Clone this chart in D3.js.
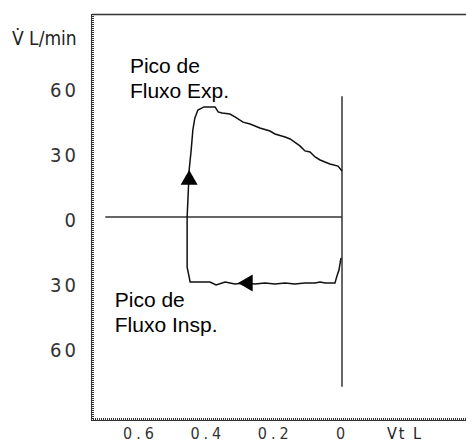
<!DOCTYPE html>
<html><head><meta charset="utf-8">
<script src="https://cdn.jsdelivr.net/npm/d3@7"></script>
<style>
body{margin:0;background:#fff;}
svg{display:block;}
.tick text{font-family:"Liberation Sans Narrow","DejaVu Sans Condensed","Liberation Sans",Arial,sans-serif;fill:#333;}
</style></head>
<body>
<svg id="c" width="466" height="443"></svg>
<script>
// Flow-volume loop (volume in L, flow in L/min), traced in drawing order
const volume = [0.003,0.009,0.015,0.021,0.050,0.065,0.080,0.110,0.140,0.169,0.199,0.229,0.258,0.288,0.318,0.347,0.374,0.392,0.451,0.460,0.460,
  0.457,0.454,0.448,0.443,0.437,0.428,0.410,0.377,0.368,0.356,0.333,0.318,0.294,0.273,0.244,0.214,0.199,0.169,0.154,0.125,0.110,0.095,0.080,0.065,0.036,0.012,0];
const flow = [-18.9,-24.5,-27.2,-30.5,-30.5,-30.0,-30.5,-30.5,-30.9,-30.5,-30.9,-30.5,-30.9,-30.5,-30.9,-30.0,-31.4,-30.0,-30.0,-23.1,0,
  10.2,21.7,30.9,40.2,45.7,49.4,50.8,50.8,48.5,48.0,47.5,46.2,43.8,42.9,41.1,39.7,38.3,36.9,36.0,32.8,30.5,30.0,27.7,26.3,24.5,23.5,21.2];
const yTicks = [60,30,0,-30,-60];
const xTicks = [0.6,0.4,0.2,0];
const yTitle = "V\u0307 L/min";
const xTitle = "Vt L";
const annotations = [
  {lines:["Pico de","Fluxo Exp."], v:0.630, f:66.5},
  {lines:["Pico de","Fluxo Insp."], v:0.675, f:-41.5}
];
const arrowVolume = [0.454, 0.309];
const arrowFlow = [21.7, -30.5];
const arrowAngle = [0, -90];

const svg = d3.select("#c");
const x = d3.scaleLinear().domain([0,0.6]).range([342,140]);
const y = d3.scaleLinear().domain([-60,60]).range([347,87]);

// frame
const ink = "#333";
svg.append("line").attr("x1",92).attr("x2",466).attr("y1",14.5).attr("y2",14.5).attr("stroke",ink).attr("stroke-width",1.5);
svg.append("line").attr("x1",91.5).attr("x2",91.5).attr("y1",14).attr("y2",420).attr("stroke",ink).attr("stroke-width",1);
svg.append("line").attr("x1",93).attr("x2",93).attr("y1",14).attr("y2",420).attr("stroke",ink).attr("stroke-width",2).attr("stroke-dasharray","1,1");
svg.append("line").attr("x1",91).attr("x2",466).attr("y1",420.5).attr("y2",420.5).attr("stroke",ink).attr("stroke-width",1);
svg.append("line").attr("x1",91).attr("x2",466).attr("y1",419).attr("y2",419).attr("stroke",ink).attr("stroke-width",2).attr("stroke-dasharray","1,1");

// axes labels via d3 axes
const ya = svg.append("g").attr("transform","translate(92,0)")
  .call(d3.axisLeft(y).tickValues(yTicks).tickSize(0).tickPadding(13).tickFormat(d=>String(Math.abs(d))));
ya.select(".domain").remove();
ya.selectAll(".tick text").attr("dy","0.45em").attr("letter-spacing","3px").style("font-size","20px");

const xa = svg.append("g").attr("transform","translate(0,439)")
  .call(d3.axisBottom(x).tickValues(xTicks).tickSize(0).tickPadding(0).tickFormat(d=>d===0?"0":d3.format(".1f")(d)));
xa.select(".domain").remove();
xa.selectAll(".tick text").attr("y",0).attr("dy",0).attr("letter-spacing","4px").style("font-size","16px");

svg.append("text").attr("x",12).attr("y",45).text(yTitle)
  .style("font-family",'"Liberation Sans Narrow","DejaVu Sans Condensed","Liberation Sans",Arial,sans-serif')
  .style("font-size","19px").attr("fill","#222");
svg.append("text").attr("x",387).attr("y",439).text(xTitle)
  .style("font-family",'"Liberation Sans Narrow","DejaVu Sans Condensed","Liberation Sans",Arial,sans-serif')
  .style("font-size","16px").attr("letter-spacing","2px").attr("fill","#222");

// zero lines
svg.append("line").attr("x1",x(0.703)).attr("x2",x(0)).attr("y1",y(0)).attr("y2",y(0)).attr("stroke",ink).attr("stroke-width",1.5);
svg.append("line").attr("x1",x(0)).attr("x2",x(0)).attr("y1",y(55.7)).attr("y2",y(-78.4)).attr("stroke",ink).attr("stroke-width",1.5);

// loop
const pts = volume.map((v,i)=>[v,flow[i]]);
svg.append("path").datum(pts)
  .attr("d", d3.line().x(d=>x(d[0])).y(d=>y(d[1])))
  .attr("fill","none").attr("stroke","#111").attr("stroke-width",1.5).attr("stroke-linejoin","miter");

// arrows (tip at the data point)
const tri = d3.symbol().type(d3.symbolTriangle).size(125);
const h = Math.sqrt(125*4/Math.sqrt(3))*Math.sqrt(3)/2;
arrowVolume.forEach((v,i)=>{
  const ox = arrowAngle[i]===-90 ? 2/3*h : 0;
  const oy = arrowAngle[i]===0 ? 2/3*h : 0;
  svg.append("path").attr("d",tri())
    .attr("transform",`translate(${x(v)+ox},${y(arrowFlow[i])+oy}) rotate(${arrowAngle[i]})`)
    .attr("fill","#000");
});

// annotations
annotations.forEach(a=>{
  const t = svg.append("text").attr("x",x(a.v)).attr("y",y(a.f))
    .style("font-family",'"Liberation Sans",Arial,sans-serif').style("font-size","21px").attr("fill","#000");
  a.lines.forEach((l,i)=>t.append("tspan").attr("x",x(a.v)).attr("dy",i===0?0:25).text(l));
});
</script>
</body></html>
